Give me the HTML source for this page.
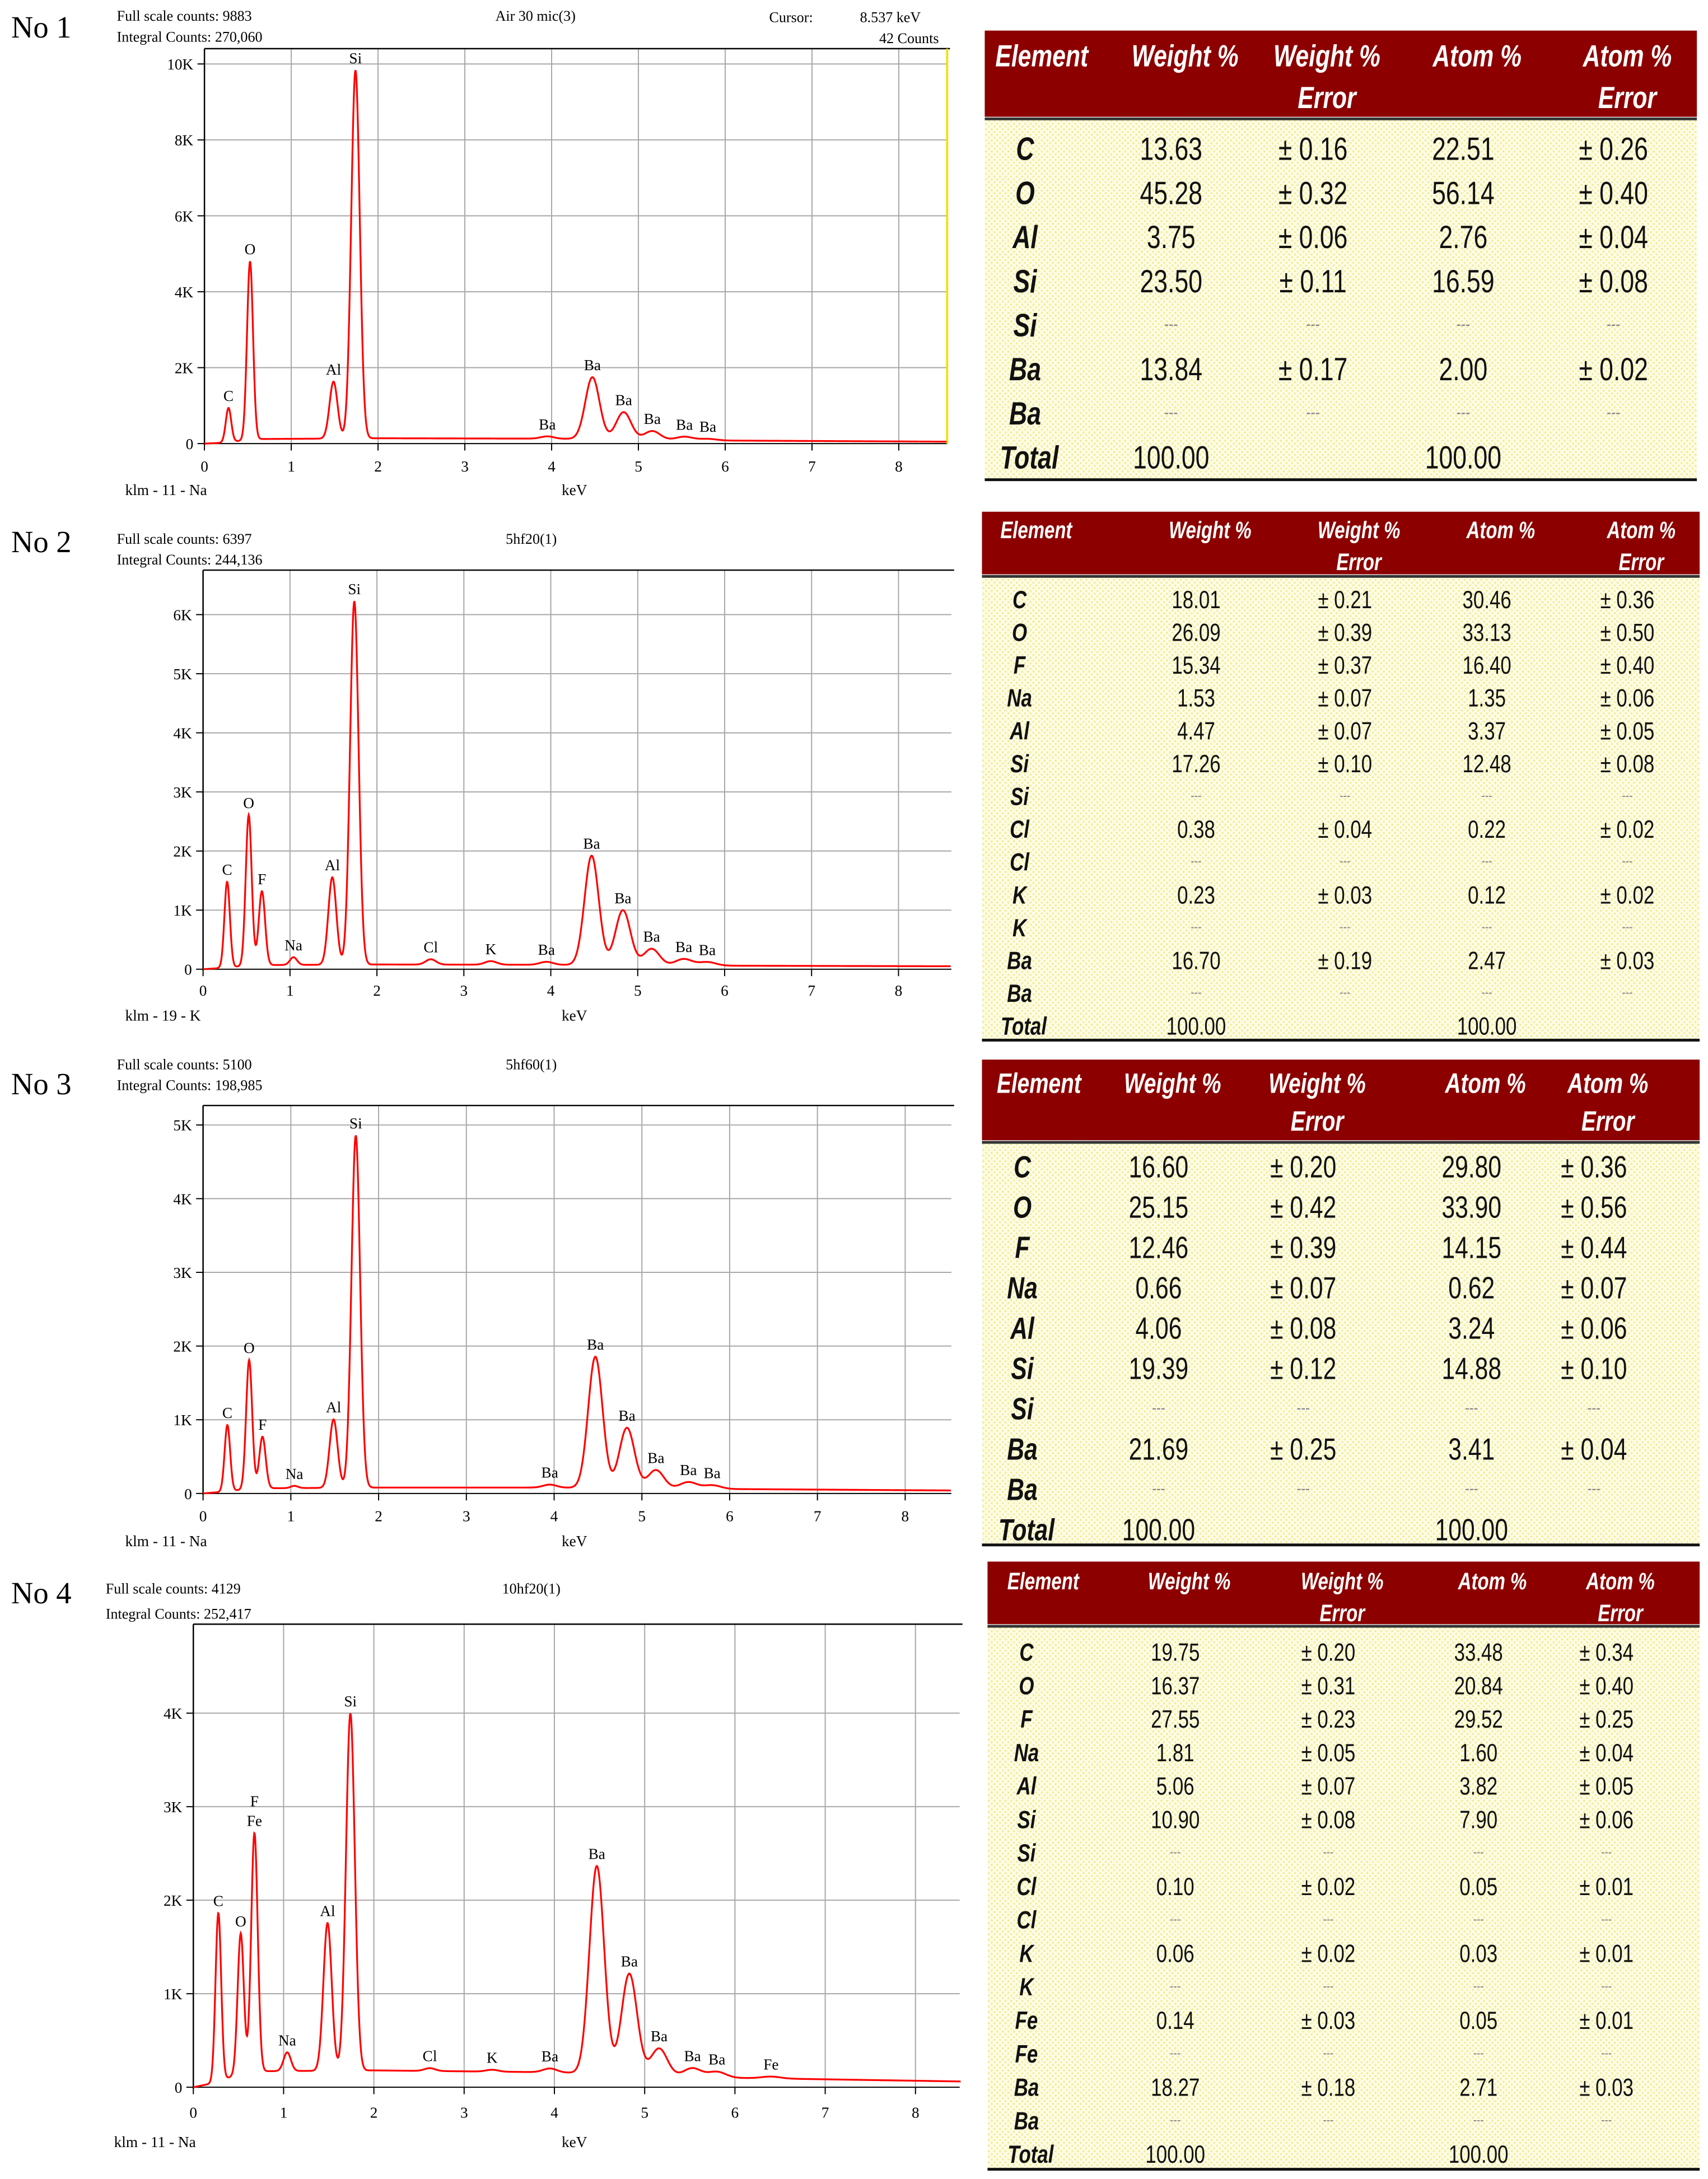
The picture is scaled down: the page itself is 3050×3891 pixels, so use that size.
<!DOCTYPE html>
<html><head><meta charset="utf-8">
<style>
html,body{margin:0;padding:0;background:#fff;}
svg{display:block;}
.ser{font-family:"Liberation Serif",serif;fill:#000;}
.tb{font-family:"Liberation Sans Narrow","Liberation Sans",sans-serif;}
</style></head>
<body>
<svg id="root" xmlns="http://www.w3.org/2000/svg" width="3050" height="3891" viewBox="0 0 1228 1567" preserveAspectRatio="none">
<defs>
<pattern id="dots" width="4" height="4" patternUnits="userSpaceOnUse">
<rect width="4" height="4" fill="#fdfce8"/><circle cx="1" cy="1" r="0.8" fill="#f3ee9a"/><circle cx="3" cy="3" r="0.8" fill="#f3ee9a"/>
</pattern>
</defs>
</svg>
<script>
// ---------- spectrum data ----------
const p1PeakKeV = [0.277,0.525,1.487,1.74,3.95,4.47,4.83,5.16,5.53,5.8];
const p1PeakCounts = [900,4700,1500,9700,60,1630,720,230,90,40];
const p1BgKeV = [0,0.2,0.6,2,4,6,8.6];
const p1BgCounts = [0,20,120,140,130,80,50];
const p1Labels = ["C","O","Al","Si","Ba","Ba","Ba","Ba","Ba","Ba"];

const p2PeakKeV = [0.277,0.525,0.677,1.04,1.487,1.74,2.62,3.31,3.95,4.47,4.83,5.16,5.53,5.8];
const p2PeakCounts = [1450,2550,1250,130,1480,6150,90,60,50,1850,930,280,110,60];
const p2BgKeV = [0,0.2,0.6,2,4,6,8.6];
const p2BgCounts = [0,20,70,80,75,60,50];
const p2Labels = ["C","O","F","Na","Al","Si","Cl","K","Ba","Ba","Ba","Ba","Ba","Ba"];

const p3PeakKeV = [0.277,0.525,0.677,1.04,1.487,1.74,3.95,4.47,4.83,5.16,5.53,5.8];
const p3PeakCounts = [900,1750,700,30,930,4780,40,1780,820,250,90,50];
const p3BgKeV = [0,0.2,0.6,2,4,6,8.6];
const p3BgCounts = [0,20,70,80,80,60,40];
const p3Labels = ["C","O","F","Na","Al","Si","Ba","Ba","Ba","Ba","Ba","Ba"];

const p4PeakKeV = [0.277,0.525,0.677,1.04,1.487,1.74,2.62,3.31,3.95,4.47,4.83,5.16,5.53,5.8,6.4];
const p4PeakCounts = [1800,1500,2550,200,1580,3820,30,20,40,2220,1080,290,90,60,20];
const p4BgKeV = [0,0.2,0.6,2,4,6,8.6];
const p4BgCounts = [0,40,170,180,160,100,60];
const p4Labels = ["C","O","F\nFe","Na","Al","Si","Cl","K","Ba","Ba","Ba","Ba","Ba","Ba","Fe"];

const p1YTicks = [0,2,4,6,8,10];
const p2YTicks = [0,1,2,3,4,5,6];
const p3YTicks = [0,1,2,3,4,5];
const p4YTicks = [0,1,2,3,4];
const xTicks = [0,1,2,3,4,5,6,7,8];

// ---------- table data ----------
const t1Elements = ["C","O","Al","Si","Si","Ba","Ba","Total"];
const t1Weight = ["13.63","45.28","3.75","23.50","---","13.84","---","100.00"];
const t1WErr = ["± 0.16","± 0.32","± 0.06","± 0.11","---","± 0.17","---",""];
const t1Atom = ["22.51","56.14","2.76","16.59","---","2.00","---","100.00"];
const t1AErr = ["± 0.26","± 0.40","± 0.04","± 0.08","---","± 0.02","---",""];

const t2Elements = ["C","O","F","Na","Al","Si","Si","Cl","Cl","K","K","Ba","Ba","Total"];
const t2Weight = ["18.01","26.09","15.34","1.53","4.47","17.26","---","0.38","---","0.23","---","16.70","---","100.00"];
const t2WErr = ["± 0.21","± 0.39","± 0.37","± 0.07","± 0.07","± 0.10","---","± 0.04","---","± 0.03","---","± 0.19","---",""];
const t2Atom = ["30.46","33.13","16.40","1.35","3.37","12.48","---","0.22","---","0.12","---","2.47","---","100.00"];
const t2AErr = ["± 0.36","± 0.50","± 0.40","± 0.06","± 0.05","± 0.08","---","± 0.02","---","± 0.02","---","± 0.03","---",""];

const t3Elements = ["C","O","F","Na","Al","Si","Si","Ba","Ba","Total"];
const t3Weight = ["16.60","25.15","12.46","0.66","4.06","19.39","---","21.69","---","100.00"];
const t3WErr = ["± 0.20","± 0.42","± 0.39","± 0.07","± 0.08","± 0.12","---","± 0.25","---",""];
const t3Atom = ["29.80","33.90","14.15","0.62","3.24","14.88","---","3.41","---","100.00"];
const t3AErr = ["± 0.36","± 0.56","± 0.44","± 0.07","± 0.06","± 0.10","---","± 0.04","---",""];

const t4Elements = ["C","O","F","Na","Al","Si","Si","Cl","Cl","K","K","Fe","Fe","Ba","Ba","Total"];
const t4Weight = ["19.75","16.37","27.55","1.81","5.06","10.90","---","0.10","---","0.06","---","0.14","---","18.27","---","100.00"];
const t4WErr = ["± 0.20","± 0.31","± 0.23","± 0.05","± 0.07","± 0.08","---","± 0.02","---","± 0.02","---","± 0.03","---","± 0.18","---",""];
const t4Atom = ["33.48","20.84","29.52","1.60","3.82","7.90","---","0.05","---","0.03","---","0.05","---","2.71","---","100.00"];
const t4AErr = ["± 0.34","± 0.40","± 0.25","± 0.04","± 0.05","± 0.06","---","± 0.01","---","± 0.01","---","± 0.01","---","± 0.03","---",""];

const NS = "http://www.w3.org/2000/svg";
const root = document.getElementById('root');
function mk(tag, attrs, parent, txt){
  const e = document.createElementNS(NS, tag);
  for (const k in attrs) e.setAttribute(k, attrs[k]);
  if (txt !== undefined) e.textContent = txt;
  (parent||root).appendChild(e);
  return e;
}

const panelCfg = [
 {n:1, left:147, right:681, top:35, bottom:319, pxK:62.4, pxC:27.3/1000, xmax:8.55, peaks:p1PeakKeV, counts:p1PeakCounts, bgk:p1BgKeV, bgc:p1BgCounts, labels:p1Labels, yt:p1YTicks,
  noY:20, h1:"Full scale counts: 9883", h2:"Integral Counts: 270,060", title:"Air 30 mic(3)", titleX:385, hy1:15, hy2:30, cursor:true, tickY:339, footY:356, foot:"klm - 11 - Na"},
 {n:2, left:146, right:684, top:410, bottom:697, pxK:62.5, pxC:42.5/1000, xmax:8.6, peaks:p2PeakKeV, counts:p2PeakCounts, bgk:p2BgKeV, bgc:p2BgCounts, labels:p2Labels, yt:p2YTicks,
  noY:390, h1:"Full scale counts: 6397", h2:"Integral Counts: 244,136", title:"5hf20(1)", titleX:382, hy1:391, hy2:406, tickY:716, footY:734, foot:"klm - 19 - K"},
 {n:3, left:146, right:684, top:795, bottom:1074, pxK:63.1, pxC:53/1000, xmax:8.52, peaks:p3PeakKeV, counts:p3PeakCounts, bgk:p3BgKeV, bgc:p3BgCounts, labels:p3Labels, yt:p3YTicks,
  noY:780, h1:"Full scale counts: 5100", h2:"Integral Counts: 198,985", title:"5hf60(1)", titleX:382, hy1:769, hy2:784, tickY:1094, footY:1112, foot:"klm - 11 - Na"},
 {n:4, left:139, right:690, top:1168, bottom:1501, pxK:64.9, pxC:67.25/1000, xmax:8.5, peaks:p4PeakKeV, counts:p4PeakCounts, bgk:p4BgKeV, bgc:p4BgCounts, labels:p4Labels, yt:p4YTicks,
  noY:1146, h1:"Full scale counts: 4129", h2:"Integral Counts: 252,417", title:"10hf20(1)", titleX:382, hy1:1146, hy2:1164, tickY:1523, footY:1544, foot:"klm - 11 - Na", shiftH:-8}
];

function bgAt(e, bk, bc){
  if (e <= bk[0]) return bc[0];
  for (let i=1;i<bk.length;i++){
    if (e <= bk[i]){ const t=(e-bk[i-1])/(bk[i]-bk[i-1]); return bc[i-1]+t*(bc[i]-bc[i-1]); }
  }
  return bc[bc.length-1];
}
function spec(e, p){
  let y = bgAt(e, p.bgk, p.bgc);
  for (let i=0;i<p.peaks.length;i++){
    const c=p.peaks[i], s=0.028+0.012*c;
    y += p.counts[i]*Math.exp(-(e-c)*(e-c)/(2*s*s));
  }
  return y;
}

panelCfg.forEach(p=>{
  const g = mk('g',{});
  
  
  const X = k => p.left + k*p.pxK;
  const Y = c => p.bottom - c*p.pxC;
  const sh = p.shiftH||0;
  const no = mk('text',{x:8,y:p.noY+7,'font-size':22,class:'ser'},g,'No '+p.n);
  
  
  const hx = 84+sh;
  const a = mk('text',{x:hx,y:p.hy1,'font-size':10.5,class:'ser'},g,p.h1);
  
  
  const b = mk('text',{x:hx,y:p.hy2,'font-size':10.5,class:'ser'},g,p.h2);
  
  
  const t = mk('text',{x:p.titleX,y:p.hy1,'font-size':10.5,'text-anchor':'middle',class:'ser'},g,p.title);
  
  
  if (p.cursor){
    const c1 = mk('text',{x:553,y:16,'font-size':10.5,class:'ser'},g,'Cursor:');
    
    
    const c3 = mk('text',{x:662,y:16,'font-size':10.5,'text-anchor':'end',class:'ser'},g,'8.537  keV');
    
    
    const c2 = mk('text',{x:675,y:31,'font-size':10.5,'text-anchor':'end',class:'ser'},g,'42  Counts');
    
    
  }
  xTicks.forEach(k=>{
    if (k>0){ const l=mk('line',{x1:X(k),x2:X(k),y1:p.top,y2:p.bottom,stroke:'#a8a8a8','stroke-width':0.8},g);
        }
    const tk=mk('line',{x1:X(k),x2:X(k),y1:p.bottom,y2:p.bottom+5,stroke:'#000','stroke-width':0.8},g);
     
    const tl=mk('text',{x:X(k),y:p.tickY,'font-size':11,'text-anchor':'middle',class:'ser'},g,String(k));
     
  });
  p.yt.forEach(v=>{
    const yy=Y(v*1000);
    if (v>0){ const l=mk('line',{x1:p.left,x2:p.right,y1:yy,y2:yy,stroke:'#a8a8a8','stroke-width':0.8},g);
        }
    const tk=mk('line',{x1:p.left-5,x2:p.left,y1:yy,y2:yy,stroke:'#000','stroke-width':0.8},g);
     
    const tl=mk('text',{x:p.left-8,y:yy+4,'font-size':11,'text-anchor':'end',class:'ser'},g,v===0?'0':v+'K');
     
  });
  const top=mk('line',{x1:p.left,x2:p.right+2,y1:p.top,y2:p.top,stroke:'#000','stroke-width':1},g);
   
  const ax=mk('line',{x1:p.left,x2:p.left,y1:p.top,y2:p.bottom+1,stroke:'#000','stroke-width':1},g);
   
  const bx=mk('line',{x1:p.left,x2:p.right,y1:p.bottom,y2:p.bottom,stroke:'#000','stroke-width':0.8},g);
   
  if (p.cursor){
    const cl=mk('line',{x1:p.right,x2:p.right,y1:p.top,y2:p.bottom,stroke:'#f0e000','stroke-width':1.5},g);
     
  }
  let d='';
  for (let e=0; e<=p.xmax+1e-9; e+=0.005){
    d += (d?'L':'M')+X(e).toFixed(2)+','+Y(spec(e,p)).toFixed(2);
  }
  const path=mk('path',{d:d,fill:'none',stroke:'#f00','stroke-width':1.3},g);
   
  p.labels.forEach((lab,i)=>{
    const e=p.peaks[i];
    const parts=lab.split('\n');
    parts.forEach((s,j)=>{
      const yy=Y(spec(e,p))-5-(parts.length-1-j)*14;
      const tl=mk('text',{x:X(e),y:yy,'font-size':11,'text-anchor':'middle',class:'ser'},g,s);
       
    });
  });
  const ft=mk('text',{x:hx+6,y:p.footY,'font-size':11,class:'ser'},g,p.foot);
   
  const kv=mk('text',{x:413,y:p.footY,'font-size':11,'text-anchor':'middle',class:'ser'},g,'keV');
   
});

// ---------- tables ----------
const tableCfg = [
 {n:1, x:708, w:512, hTop:22, hBot:84, hl1:40, hl2:70, hfs:22, body0:107, step:31.7, fs:23, cols:[737,842,944,1052,1160], bodyBot:345,
  el:t1Elements, w1:t1Weight, we:t1WErr, at:t1Atom, ae:t1AErr},
 {n:2, x:706, w:516, hTop:368, hBot:413, hl1:381, hl2:404, hfs:17, body0:431, step:23.6, fs:18, cols:[733,860,967,1069,1170], bodyBot:748,
  el:t2Elements, w1:t2Weight, we:t2WErr, at:t2Atom, ae:t2AErr},
 {n:3, x:706, w:516, hTop:762, hBot:820, hl1:779, hl2:806, hfs:20, body0:839, step:29, fs:22, cols:[735,833,937,1058,1146], bodyBot:1111,
  el:t3Elements, w1:t3Weight, we:t3WErr, at:t3Atom, ae:t3AErr},
 {n:4, x:710, w:512, hTop:1123, hBot:1168, hl1:1137, hl2:1160, hfs:17, body0:1188, step:24.07, fs:18, cols:[738,845,955,1063,1155], bodyBot:1560,
  el:t4Elements, w1:t4Weight, we:t4WErr, at:t4Atom, ae:t4AErr}
];
const SX = 0.78;
tableCfg.forEach(t=>{
  const g=mk('g',{class:'tb'});
  
  
  const hb=mk('rect',{x:t.x,y:t.hTop,width:t.w,height:t.hBot-t.hTop,fill:'#8c0000'},g);
   
  const bb=mk('rect',{x:t.x,y:t.hBot+2,width:t.w,height:t.bodyBot-t.hBot-2,fill:'url(#dots)'},g);
   
  const s1=mk('line',{x1:t.x,x2:t.x+t.w,y1:t.hBot+1.5,y2:t.hBot+1.5,stroke:'#333','stroke-width':2},g);
   
  const s2=mk('line',{x1:t.x,x2:t.x+t.w,y1:t.bodyBot,y2:t.bodyBot,stroke:'#111','stroke-width':2},g);
   
  const heads=[["Element",""],["Weight %",""],["Weight %","Error"],["Atom %",""],["Atom %","Error"]];
  heads.forEach((h,i)=>{
    const x=t.cols[i]+(i===0?12:10);
    const a=mk('text',{x:0,y:0,transform:`translate(${x},${t.hl1+t.hfs*0.35}) scale(${SX},1)`,'font-size':t.hfs,'font-weight':'bold','font-style':'italic',fill:'#fff','text-anchor':'middle'},g,h[0]);
     
    if (h[1]){ const b=mk('text',{x:0,y:0,transform:`translate(${x},${t.hl2+t.hfs*0.35}) scale(${SX},1)`,'font-size':t.hfs,'font-weight':'bold','font-style':'italic',fill:'#fff','text-anchor':'middle'},g,h[1]);
        }
  });
  t.el.forEach((el,r)=>{
    const y=t.body0+r*t.step+t.fs*0.35;
    const cells=[el,t.w1[r],t.we[r],t.at[r],t.ae[r]];
    cells.forEach((v,c)=>{
      if(!v) return;
      const dash=v==='---';
      const isTotal = el==='Total';
      let x=t.cols[c];
      if (isTotal && c===0) x=t.cols[0]+3;
      const yy=dash?y-t.fs*0.2:y;
      const tx=mk('text',{x:0,y:0,transform:`translate(${x},${yy}) scale(${SX},1)`,'font-size':dash?t.fs*0.55:t.fs,'text-anchor':'middle',
        'font-weight':c===0?'bold':'normal','font-style':c===0?'italic':'normal',fill:dash?'#888':'#111'},g,v);
      
      
    });
  });
});
</script>
</body></html>
